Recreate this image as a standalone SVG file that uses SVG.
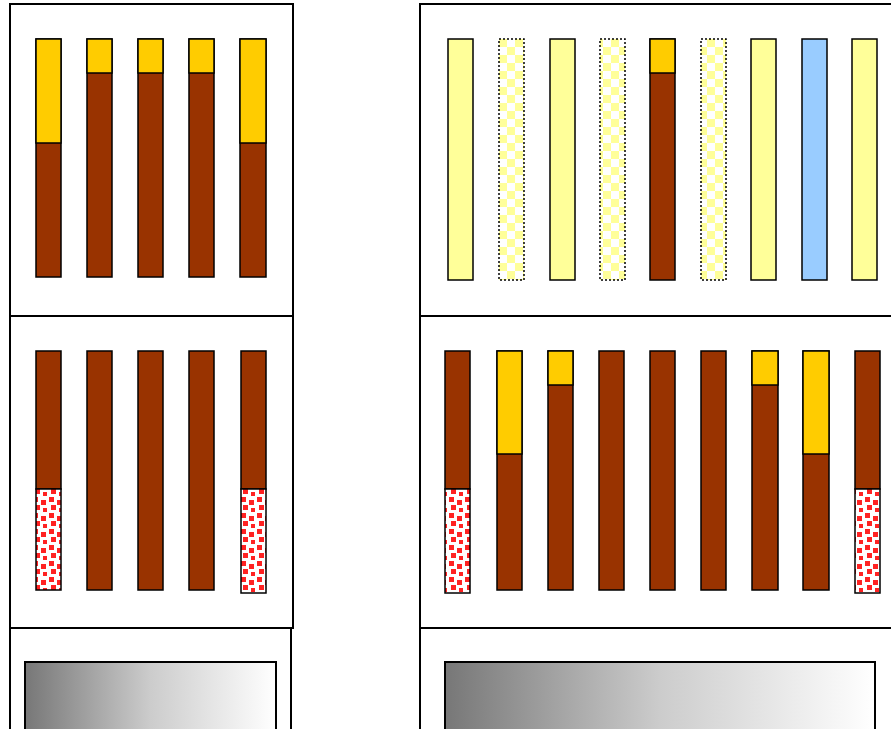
<svg xmlns="http://www.w3.org/2000/svg" width="891" height="729" viewBox="0 0 891 729">
<defs>
<style>
.frame{fill:#fff;stroke:#000;stroke-width:2}
.bar{stroke:#000;stroke-width:1.5}
.br{fill:#993300}
.gd{fill:#ffcc00}
.ly{fill:#ffff99}
.bl{fill:#99ccff}
.ck{fill:url(#check);stroke:#000;stroke-width:1.5;stroke-dasharray:2 2}
.rd{fill:url(#dots)}
.gr{fill:url(#grad);stroke:#000;stroke-width:2}
</style>
<pattern id="check" width="16" height="16" patternUnits="userSpaceOnUse" x="499" y="39">
<rect width="16" height="16" fill="#fff"/>
<rect width="8" height="8" fill="#ffff99"/>
<rect x="8" y="8" width="8" height="8" fill="#ffff99"/>
</pattern>
<pattern id="dots" width="16" height="16" patternUnits="userSpaceOnUse">
<rect width="16" height="16" fill="#fff"/>
<rect x="1" y="1" width="5" height="5" fill="#f22"/>
<rect x="9" y="4" width="5" height="5" fill="#f22"/>
<rect x="3" y="9" width="5" height="5" fill="#f22"/>
<rect x="11" y="12" width="4" height="4" fill="#f22"/>
</pattern>
<linearGradient id="grad" x1="0" y1="0" x2="1" y2="0">
<stop offset="0" stop-color="#777"/>
<stop offset="0.5" stop-color="#ccc"/>
<stop offset="1" stop-color="#fff"/>
</linearGradient>
</defs>
<g id="left-panel">
<rect class="frame" x="10" y="4" width="283" height="312"/>
<rect class="frame" x="10" y="316" width="283" height="312"/>
<rect class="frame" x="10" y="628" width="281" height="110"/>
</g>
<g id="left-top-bars">
<g id="lt1"><rect class="bar br" x="36" y="39" width="25" height="238"/><rect class="bar gd" x="36" y="39" width="25" height="104"/></g>
<g id="lt2"><rect class="bar br" x="87" y="39" width="25" height="238"/><rect class="bar gd" x="87" y="39" width="25" height="34"/></g>
<g id="lt3"><rect class="bar br" x="138" y="39" width="25" height="238"/><rect class="bar gd" x="138" y="39" width="25" height="34"/></g>
<g id="lt4"><rect class="bar br" x="189" y="39" width="25" height="238"/><rect class="bar gd" x="189" y="39" width="25" height="34"/></g>
<g id="lt5"><rect class="bar br" x="240" y="39" width="26" height="238"/><rect class="bar gd" x="240" y="39" width="26" height="104"/></g>
</g>
<g id="left-mid-bars">
<g id="lm1"><rect class="bar br" x="36" y="351" width="25" height="138"/><rect class="bar rd" x="36" y="489" width="25" height="101"/></g>
<g id="lm2"><rect class="bar br" x="87" y="351" width="25" height="239"/></g>
<g id="lm3"><rect class="bar br" x="138" y="351" width="25" height="239"/></g>
<g id="lm4"><rect class="bar br" x="189" y="351" width="25" height="239"/></g>
<g id="lm5"><rect class="bar br" x="241" y="351" width="25" height="138"/><rect class="bar rd" x="241" y="489" width="25" height="104"/></g>
</g>
<g id="left-gradient"><rect class="gr" x="25" y="662" width="251" height="80"/></g>
<g id="right-panel">
<rect class="frame" x="420" y="4" width="480" height="312"/>
<rect class="frame" x="420" y="316" width="480" height="312"/>
<rect class="frame" x="420" y="628" width="480" height="110"/>
</g>
<g id="right-top-bars">
<g id="rt1"><rect class="bar ly" x="448" y="39" width="25" height="241"/></g>
<g id="rt2"><rect class="ck" x="499" y="39" width="25" height="241"/></g>
<g id="rt3"><rect class="bar ly" x="550" y="39" width="25" height="241"/></g>
<g id="rt4"><rect class="ck" x="600" y="39" width="25" height="241"/></g>
<g id="rt5"><rect class="bar br" x="650" y="39" width="25" height="241"/><rect class="bar gd" x="650" y="39" width="25" height="34"/></g>
<g id="rt6"><rect class="ck" x="701" y="39" width="25" height="241"/></g>
<g id="rt7"><rect class="bar ly" x="751" y="39" width="25" height="241"/></g>
<g id="rt8"><rect class="bar bl" x="802" y="39" width="25" height="241"/></g>
<g id="rt9"><rect class="bar ly" x="852" y="39" width="25" height="241"/></g>
</g>
<g id="right-mid-bars">
<g id="rm1"><rect class="bar br" x="445" y="351" width="25" height="138"/><rect class="bar rd" x="445" y="489" width="25" height="104"/></g>
<g id="rm2"><rect class="bar br" x="497" y="351" width="25" height="239"/><rect class="bar gd" x="497" y="351" width="25" height="103"/></g>
<g id="rm3"><rect class="bar br" x="548" y="351" width="25" height="239"/><rect class="bar gd" x="548" y="351" width="25" height="34"/></g>
<g id="rm4"><rect class="bar br" x="599" y="351" width="25" height="239"/></g>
<g id="rm5"><rect class="bar br" x="650" y="351" width="25" height="239"/></g>
<g id="rm6"><rect class="bar br" x="701" y="351" width="25" height="239"/></g>
<g id="rm7"><rect class="bar br" x="752" y="351" width="26" height="239"/><rect class="bar gd" x="752" y="351" width="26" height="34"/></g>
<g id="rm8"><rect class="bar br" x="803" y="351" width="26" height="239"/><rect class="bar gd" x="803" y="351" width="26" height="103"/></g>
<g id="rm9"><rect class="bar br" x="855" y="351" width="25" height="138"/><rect class="bar rd" x="855" y="489" width="25" height="104"/></g>
</g>
<g id="right-gradient"><rect class="gr" x="445" y="662" width="430" height="80"/></g>
</svg>
